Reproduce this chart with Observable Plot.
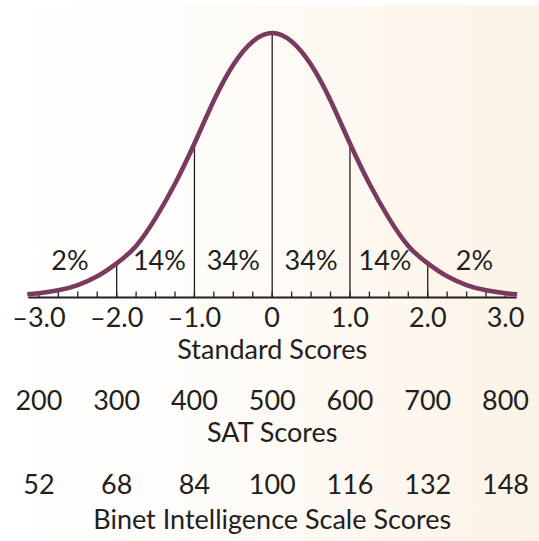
<!DOCTYPE html>
<html>
<head>
<meta charset="utf-8">
<script src="https://cdn.jsdelivr.net/npm/d3@7"></script>
<script src="https://cdn.jsdelivr.net/npm/@observablehq/plot@0.6"></script>
<style>
  html, body { margin: 0; padding: 0; background: #ffffff; }
  #chart {
    width: 539px; height: 541px; overflow: hidden;
    background:
      linear-gradient(#ffffff, #ffffff) top / 100% 5px no-repeat,
      linear-gradient(to right, #ffffff 0%, #fefdfb 30%, #fdf7ef 70%, #fcf3e7 100%);
  }
  #chart svg { background: transparent; overflow: visible; display: block; }
</style>
</head>
<body>
<div id="chart"></div>
<script>
// ---- data ----
// normal-curve samples: standard score and relative height (peak = 1)
const curveZ = [-3.15, -3, -2.75, -2.5, -2.25, -2, -1.75, -1.5, -1.25, -1, -0.75, -0.5, -0.25, 0,
                0.25, 0.5, 0.75, 1, 1.25, 1.5, 1.75, 2, 2.25, 2.5, 2.75, 3, 3.15];
const curveH = [0.012, 0.016, 0.027, 0.047, 0.08, 0.129, 0.195, 0.30, 0.43, 0.582, 0.745, 0.88, 0.968, 1,
                0.968, 0.88, 0.745, 0.582, 0.43, 0.30, 0.195, 0.129, 0.08, 0.047, 0.027, 0.016, 0.012];
const divisions = [-2, -1, 0, 1, 2];
const minorTicks = d3.range(-12, 13).map(k => k / 4);
const axisExtent = [-3.13, 3.15];
const pctLabels = ["2%", "14%", "34%", "34%", "14%", "2%"];
const pctPos = [-2.6, -1.45, -0.5, 0.5, 1.45, 2.6];
const stdValues = [-3, -2, -1, 0, 1, 2, 3];
const stdLabels = ["–3.0", "–2.0", "–1.0", "0", "1.0", "2.0", "3.0"];
const satLabels = ["200", "300", "400", "500", "600", "700", "800"];
const binetLabels = ["52", "68", "84", "100", "116", "132", "148"];
const titles = ["Standard Scores", "SAT Scores", "Binet Intelligence Scale Scores"];

// ---- layout / style ----
const W = 539, H = 541;
const mTop = 32.5, mBottom = 244, mLeft = 38.4, mRight = 34;
const frameH = H - mTop - mBottom;
const ink = "#231f20";
const curveColor = "#7a3a5e";
const fs = 27;
const font = "Lato, 'Open Sans', sans-serif";

const curve = curveZ.map((z, i) => ({z, h: curveH[i]}));
const heightAt = z => curveH[curveZ.indexOf(z)];

const chart = Plot.plot({
  width: W, height: H,
  marginTop: mTop, marginBottom: mBottom, marginLeft: mLeft, marginRight: mRight,
  x: {domain: [-3, 3], axis: null},
  y: {domain: [0, 1], axis: null},
  style: {fontFamily: font, background: "transparent", overflow: "visible"},
  marks: [
    // minor ticks
    Plot.ruleX(minorTicks, {x: d => d, y1: 0, y2: 5.5 / frameH, stroke: ink, strokeWidth: 1.3}),
    // division lines up to the curve
    Plot.ruleX(divisions, {x: d => d, y1: 0, y2: d => heightAt(d), stroke: ink, strokeWidth: 1.3}),
    // baseline
    Plot.ruleY([0], {x1: axisExtent[0], x2: axisExtent[1], stroke: ink, strokeWidth: 2}),
    // bell curve
    Plot.line(curve, {x: "z", y: "h", stroke: curveColor, strokeWidth: 4.6, curve: "natural", strokeLinecap: "butt"}),
    // percentages
    Plot.text(pctPos, {x: d => d, text: (d, i) => pctLabels[i], frameAnchor: "bottom", dy: -28, fontSize: fs, fill: ink}),
    // standard score tick labels
    Plot.text(stdValues, {x: d => d, text: (d, i) => stdLabels[i], frameAnchor: "bottom", dy: 29, fontSize: fs, fill: ink}),
    Plot.text([titles[0]], {frameAnchor: "bottom", dy: 61, fontSize: fs, fill: ink}),
    // SAT
    Plot.text(stdValues, {x: d => d, text: (d, i) => satLabels[i], frameAnchor: "bottom", dy: 112, fontSize: fs, fill: ink}),
    Plot.text([titles[1]], {frameAnchor: "bottom", dy: 144, fontSize: fs, fill: ink}),
    // Binet
    Plot.text(stdValues, {x: d => d, text: (d, i) => binetLabels[i], frameAnchor: "bottom", dy: 196, fontSize: fs, fill: ink}),
    Plot.text([titles[2]], {frameAnchor: "bottom", dy: 231, fontSize: fs, fill: ink})
  ]
});
document.getElementById("chart").appendChild(chart);
</script>
</body>
</html>
